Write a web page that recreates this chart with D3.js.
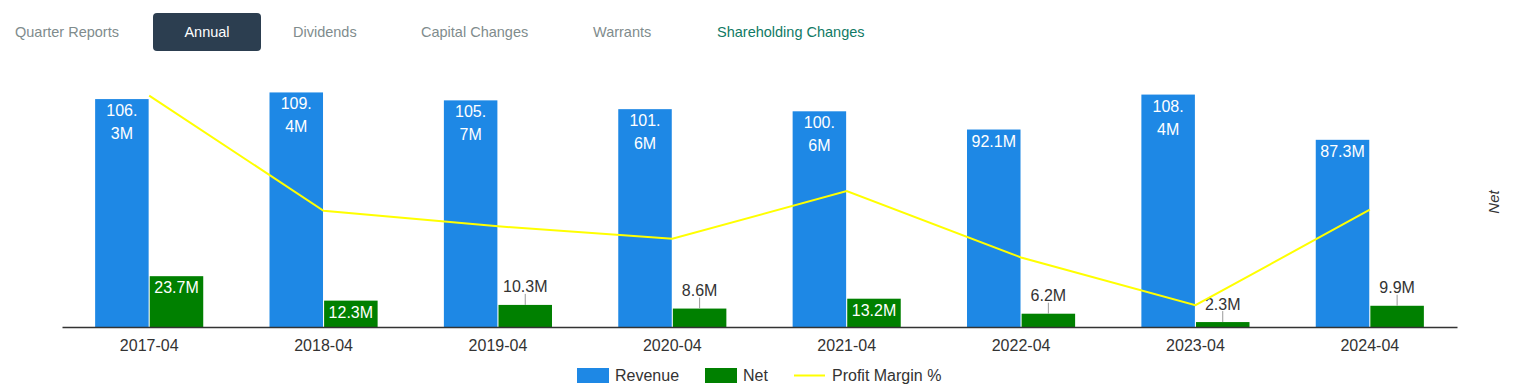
<!DOCTYPE html>
<html>
<head>
<meta charset="utf-8">
<script src="https://cdn.jsdelivr.net/npm/d3@7/dist/d3.min.js"></script>
<style>
  body { margin: 0; background: #fff; font-family: "Liberation Sans", Arial, sans-serif; }
  .tabs { position: absolute; left: 0; top: 0; }
  .tab { position: absolute; top: 13px; height: 38px; line-height: 38px; font-size: 14.5px; color: #7f8c8d; white-space: nowrap; }
  .tab.active { background: #2c3e50; color: #fff; border-radius: 4px; width: 108px; text-align: center; }
  .tab.green { color: #117a65; }
  svg { position: absolute; left: 0; top: 0; }
</style>
</head>
<body>
<div class="tabs"></div>
<svg width="1513" height="392"></svg>
<script>
// tabs along the top
var tabs = ["Quarter Reports", "Annual", "Dividends", "Capital Changes", "Warrants", "Shareholding Changes"]
var tabX = [15, 153, 293, 421, 593, 717]

// chart data (values in millions)
var years = ["2017-04", "2018-04", "2019-04", "2020-04", "2021-04", "2022-04", "2023-04", "2024-04"]
var revenue = [106.3, 109.4, 105.7, 101.6, 100.6, 92.1, 108.4, 87.3]
var net = [23.7, 12.3, 10.3, 8.6, 13.2, 6.2, 2.3, 9.9]
var margin = [22.3, 11.2, 9.7, 8.5, 13.1, 6.7, 2.1, 11.3]

d3.select(".tabs").selectAll("div")
    .data(tabs)
    .enter().append("div")
    .attr("class", (d, i) => "tab" + (i == 1 ? " active" : "") + (i == 5 ? " green" : ""))
    .style("left", (d, i) => tabX[i] + "px")
    .text(d => d)

var svg = d3.select("svg")
var plotLeft = 62, plotRight = 1457, base = 327, plotTop = 80

var x = d3.scaleBand().domain(years).range([plotLeft, plotRight]).paddingInner(0.38).paddingOuter(0.19)
var sub = d3.scaleBand().domain(["rev", "net"]).range([0, x.bandwidth()]).paddingInner(0.02)
var y = d3.scaleLinear().domain([0, 115.2]).range([base, plotTop])
var y2 = d3.scaleLinear().domain([0, 23.8]).range([base, plotTop])

var groups = svg.selectAll(".grp")
    .data(years)
    .enter().append("g")
    .attr("class", "grp")
    .attr("transform", d => `translate(${x(d)},0)`)

// revenue bars
groups.append("rect")
    .attr("x", sub("rev"))
    .attr("width", sub.bandwidth())
    .attr("y", (d, i) => y(revenue[i]))
    .attr("height", (d, i) => base - y(revenue[i]))
    .attr("fill", "#1e88e5")

// net bars
groups.append("rect")
    .attr("x", sub("net"))
    .attr("width", sub.bandwidth())
    .attr("y", (d, i) => y(net[i]))
    .attr("height", (d, i) => base - y(net[i]))
    .attr("fill", "#008000")

// revenue labels, wrapped after the decimal point if too wide
groups.each(function(d, i) {
    var g = d3.select(this)
    var label = revenue[i] + "M"
    var t = g.append("text")
        .attr("x", sub("rev") + sub.bandwidth() / 2)
        .attr("y", y(revenue[i]) + 17)
        .attr("text-anchor", "middle")
        .attr("fill", "#fff")
        .style("font-size", "16px")
        .text(label)
    if (t.node().getComputedTextLength() > sub.bandwidth() - 4) {
        var parts = label.split(".")
        t.text(parts[0] + ".")
        g.append("text")
            .attr("x", sub("rev") + sub.bandwidth() / 2)
            .attr("y", y(revenue[i]) + 40)
            .attr("text-anchor", "middle")
            .attr("fill", "#fff")
            .style("font-size", "16px")
            .text(parts[1])
    }
})

// net labels: inside when tall enough, else above with a leader line
groups.each(function(d, i) {
    var g = d3.select(this)
    var cx = sub("net") + sub.bandwidth() / 2
    var h = base - y(net[i])
    if (h > 25) {
        g.append("text")
            .attr("x", cx)
            .attr("y", y(net[i]) + 17)
            .attr("text-anchor", "middle")
            .attr("fill", "#fff")
            .style("font-size", "16px")
            .text(net[i] + "M")
    } else {
        g.append("line")
            .attr("x1", cx).attr("x2", cx)
            .attr("y1", y(net[i]) - 11).attr("y2", y(net[i]))
            .attr("stroke", "#999")
        g.append("text")
            .attr("x", cx)
            .attr("y", y(net[i]) - 12.5)
            .attr("text-anchor", "middle")
            .attr("fill", "#333")
            .style("font-size", "16px")
            .text(net[i] + "M")
    }
})

// profit margin line
var line = d3.line()
    .x((d, i) => x(years[i]) + x.bandwidth() / 2)
    .y(d => y2(d))

svg.append("path")
    .datum(margin)
    .attr("d", line)
    .attr("fill", "none")
    .attr("stroke", "#ffff00")
    .attr("stroke-width", 2)

// x axis
var xAxis = svg.append("g")
    .attr("transform", `translate(0,${base})`)
    .call(d3.axisBottom(x).tickSize(0).tickPadding(13))
xAxis.select(".domain").attr("stroke", "#333").attr("stroke-width", 1.5)
xAxis.selectAll("text")
    .style("font-size", "16px")
    .style("font-family", "Liberation Sans, Arial, sans-serif")
    .attr("fill", "#333")

// right axis title
svg.append("text")
    .attr("transform", "translate(1499,202) rotate(-90)")
    .attr("text-anchor", "middle")
    .style("font-size", "15px")
    .style("font-style", "italic")
    .attr("fill", "#333")
    .text("Net")

// legend
var legend = svg.append("g").attr("transform", "translate(577,368)")
legend.append("rect").attr("x", 0).attr("width", 32).attr("height", 15).attr("fill", "#1e88e5")
legend.append("text").attr("x", 38).attr("y", 13).text("Revenue")
legend.append("rect").attr("x", 128).attr("width", 32).attr("height", 15).attr("fill", "#008000")
legend.append("text").attr("x", 166).attr("y", 13).text("Net")
legend.append("line").attr("x1", 217).attr("x2", 248).attr("y1", 7.5).attr("y2", 7.5)
    .attr("stroke", "#ffff00").attr("stroke-width", 2)
legend.append("text").attr("x", 255).attr("y", 13).text("Profit Margin %")
legend.selectAll("text").style("font-size", "16px").attr("fill", "#333")
</script>
</body>
</html>
